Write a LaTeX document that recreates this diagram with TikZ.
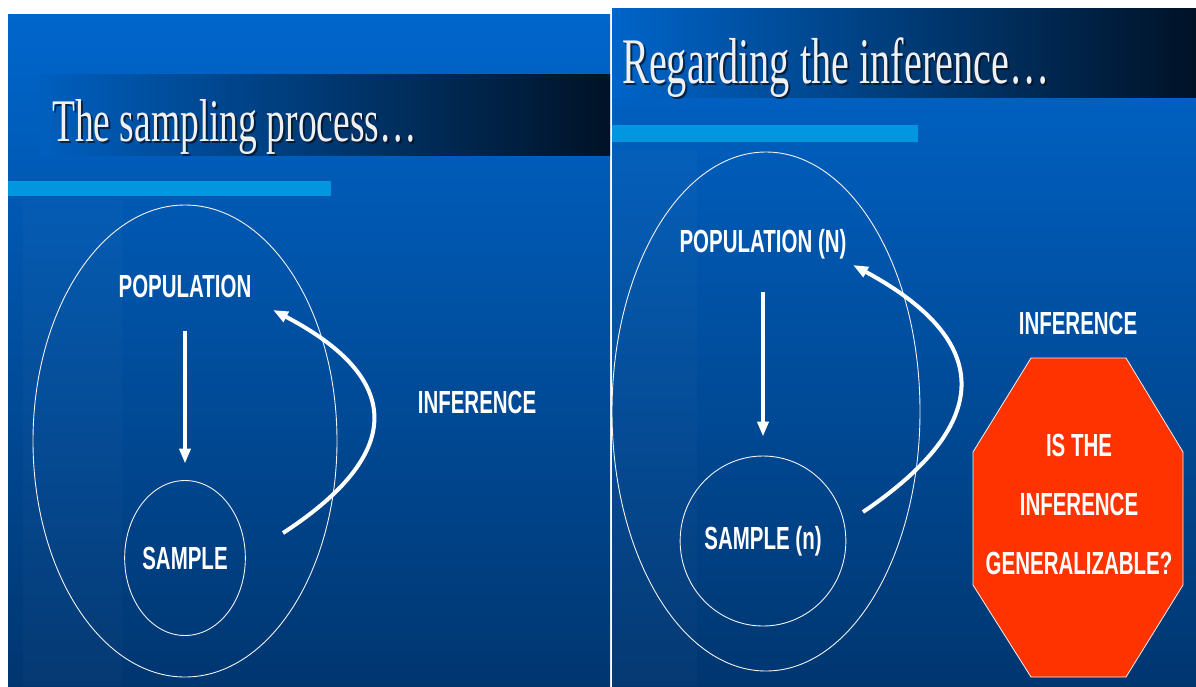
\documentclass[tikz,border=0pt]{standalone}
\usepackage{fontspec}
\newfontfamily\headfont[FakeStretch=0.62]{Liberation Serif}
\newfontfamily\boldsans[FakeStretch=0.64]{Liberation Sans}
\usepackage{tikz}
\usetikzlibrary{shapes.geometric, arrows.meta, positioning}
\definecolor{slidetop}{RGB}{0,102,204}
\definecolor{slidebot}{RGB}{0,54,112}
\definecolor{barblue}{RGB}{0,150,224}
\definecolor{bardark}{RGB}{0,18,38}
\definecolor{stopred}{RGB}{255,51,0}
\tikzset{
->, % every connector is an arrow
>={Triangle[length=15pt, width=11pt]}, % solid arrow heads
heading/.style={font=\headfont\fontsize{#1}{#1}\selectfont, text=gray!12, anchor=base west, inner sep=0pt}, % slide titles
headshadow/.style={heading=#1, text=black!75!slidebot, text opacity=0.7}, % drop shadow of the titles
tag/.style={font=\boldsans\bfseries\fontsize{32}{32}\selectfont, text=white, inner sep=0pt}, % white capital labels
ring/.style={ellipse, draw=white!90!gray, line width=0.9pt, inner sep=0pt, -}, % thin outlines
flow/.style={draw=white, line width=4pt}, % thick white arrows
}

\begin{document}
\begin{tikzpicture}[x=1pt, y=-1pt]
                % the two slides
                \useasboundingbox[fill=white] (0,0) rectangle (1196,686);
                \shade[top color=slidetop, bottom color=slidebot] (8,14) rectangle (610,686);
                \fill[white, opacity=0.02] (23,200) rectangle (122,686);
                \shade[left color=slidetop!85!slidebot, middle color=slidetop!70!bardark, right color=bardark] (40,74) rectangle (610,155);
                \fill[barblue] (8,181) rectangle (331,196);
                \shade[top color=slidetop, bottom color=slidebot] (612,8) rectangle (1196,686);
                \fill[white, opacity=0.02] (612,150) rectangle (697,686);
                \shade[left color=slidetop!97!slidebot, middle color=slidetop!70!bardark, right color=bardark] (612,8) rectangle (1196,97);
                \fill[barblue] (612,125) rectangle (918,142);
                \node[headshadow=60.5] at (54,143.7) {The sampling process…};
                \node[heading=60.5] (t1) at (52,141.7) {The sampling process…};
                \node[headshadow=65] at (624,85.3) {Regarding the inference…};
                \node[heading=65] (t2) at (622,83.3) {Regarding the inference…};

                % left slide
                \node[ring, minimum width=304pt, minimum height=472pt] (all1) at (185,441) {};
                \node[tag] (pop1) at (185,286.2) {POPULATION};
                \node[ring, tag, minimum width=120pt, minimum height=155pt] (samp1) at (185,558) {SAMPLE};
                \node[tag] (inf1) at (477,402) {INFERENCE};
                \coordinate (a1) at (283,533);
                \coordinate (b1) at (273,310);
                \draw[flow, shorten <=33.5pt, shorten >=16.5pt] (pop1) -- (samp1);
                \draw[flow] (a1) .. controls (406,453) and (403,378) .. (b1);

                % right slide
                \node[ring, minimum width=308pt, minimum height=519pt] (all2) at (766,411.5) {};
                \node[tag] (pop2) at (763,244.7) {POPULATION (N)};
                \node[ring, tag, minimum width=144pt, minimum height=170pt] (samp2) at (763,541) {SAMPLE (n)};
                \node[tag] (inf2) at (1078,323) {INFERENCE};
                \coordinate (a2) at (863,512);
                \coordinate (b2) at (853,265);
                \draw[flow, shorten <=32pt, shorten >=19pt] (pop2) -- (samp2);
                \draw[flow] (a2) .. controls (996,422) and (992,340) .. (b2);
                \draw[fill=stopred, draw=white!90!gray, line width=0.8pt, -]
                    (1031,358) -- (1126,358) -- (1183,452) -- (1183,585)
                    -- (1126,677) -- (1031,677) -- (973,585) -- (973,452) -- cycle;
                \node[tag, align=center, font=\boldsans\bfseries\fontsize{32}{59}\selectfont] (q2) at (1079,504) {IS THE\\INFERENCE\\GENERALIZABLE?};
\end{tikzpicture}
\end{document}
